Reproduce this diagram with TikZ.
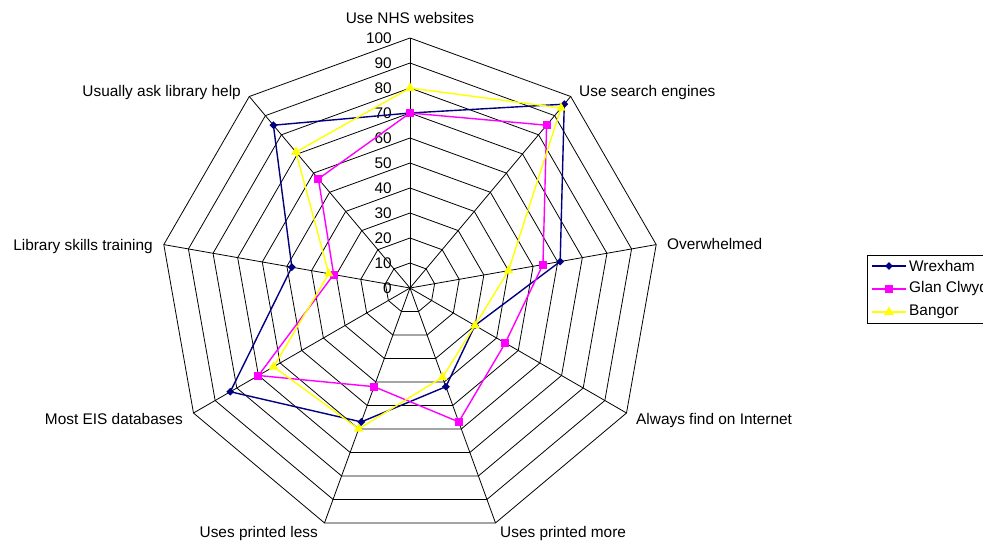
\documentclass[tikz,border=0pt]{standalone}
\usepackage{fontspec}
\setmainfont{Liberation Sans}
\usetikzlibrary{shapes.geometric}
\definecolor{wrx}{RGB}{0,0,128}
\definecolor{glc}{RGB}{255,0,255}
\definecolor{bng}{RGB}{255,255,0}
\begin{document}
\begin{tikzpicture}[x=1pt,y=1pt,
  lbl/.style={font=\fontsize{15.4}{18}\selectfont, inner sep=0pt},
  gridline/.style={draw=black, line width=0.8pt},
  ser/.style={line width=1.4pt, line join=round},
  mkw/.style={diamond, fill=wrx, inner sep=0pt, minimum size=8pt},
  mkg/.style={rectangle, fill=glc, inner sep=0pt, minimum size=8pt},
  mkb/.style={regular polygon, regular polygon sides=3, fill=bng, inner sep=0pt, minimum size=11pt}]
\useasboundingbox (-410,-254) rectangle (573,288);
\clip (-410,-254) rectangle (573,288);
% rings
\foreach \r in {1,...,10} {
  \draw[gridline] (90:{25*\r}) \foreach \i in {1,...,8} { -- ({90-40*\i}:{25*\r}) } -- cycle;
}
\foreach \i in {0,...,8} \draw[gridline] (0,0) -- ({90-40*\i}:250);
% tick labels
\foreach \v in {0,10,...,100} \node[lbl, anchor=east] (t\v) at (-18,{2.5*\v}) {\v};
% axis labels
\node[lbl, anchor=center] (a0) at (0,270) {Use NHS websites};
\node[lbl, anchor=west] (a1) at (169,195) {Use search engines};
\node[lbl, anchor=west] (a2) at (257,44) {Overwhelmed};
\node[lbl, anchor=west] (a3) at (226,-133) {Always find on Internet};
\node[lbl, anchor=west] (a4) at (90,-246) {Uses printed more};
\node[lbl, anchor=east] (a5) at (-92,-246) {Uses printed less};
\node[lbl, anchor=east] (a6) at (-227,-131) {Most EIS databases};
\node[lbl, anchor=east] (a7) at (-257,41) {Library skills training};
\node[lbl, anchor=east] (a8) at (-169,195) {Usually ask library help};
% data
\foreach \v [count=\i from 0] in {70,96,61,30,42,57,83,48,85} \coordinate (w\i) at ({90-40*\i}:{2.5*\v});
\foreach \v [count=\i from 0] in {70,85,54,44,57,42,70,31,57} \coordinate (g\i) at ({90-40*\i}:{2.5*\v});
\foreach \v [count=\i from 0] in {80,94,40,30,38,60,63,33,71} \coordinate (b\i) at ({90-40*\i}:{2.5*\v});
\draw[ser, wrx] (w0) -- (w1) -- (w2) -- (w3) -- (w4) -- (w5) -- (w6) -- (w7) -- (w8) -- cycle;
\draw[ser, glc] (g0) -- (g1) -- (g2) -- (g3) -- (g4) -- (g5) -- (g6) -- (g7) -- (g8) -- cycle;
\draw[ser, bng] (b0) -- (b1) -- (b2) -- (b3) -- (b4) -- (b5) -- (b6) -- (b7) -- (b8) -- cycle;
\foreach \i in {0,...,8} {
  \node[mkw] (mw\i) at (w\i) {};
  \node[mkg] (mg\i) at (g\i) {};
  \node[mkb] (mb\i) at (b\i) {};
}
% legend
\draw[line width=0.8pt] (457,33) rectangle (620,-35);
\coordinate (lw1) at (462,22); \coordinate (lw2) at (496,22);
\coordinate (lg1) at (462,-1); \coordinate (lg2) at (496,-1);
\coordinate (lb1) at (462,-24); \coordinate (lb2) at (496,-24);
\draw[ser, wrx] (lw1) -- (lw2);
\draw[ser, glc] (lg1) -- (lg2);
\draw[ser, bng] (lb1) -- (lb2);
\node[mkw] (lmw) at (479,22) {};
\node[mkg] (lmg) at (479,-1) {};
\node[mkb] (lmb) at (479,-24) {};
\node[lbl, anchor=west] (lt1) at (499,22) {Wrexham};
\node[lbl, anchor=west] (lt2) at (499,-1) {Glan Clwyd};
\node[lbl, anchor=west] (lt3) at (499,-24) {Bangor};
\end{tikzpicture}
\end{document}
